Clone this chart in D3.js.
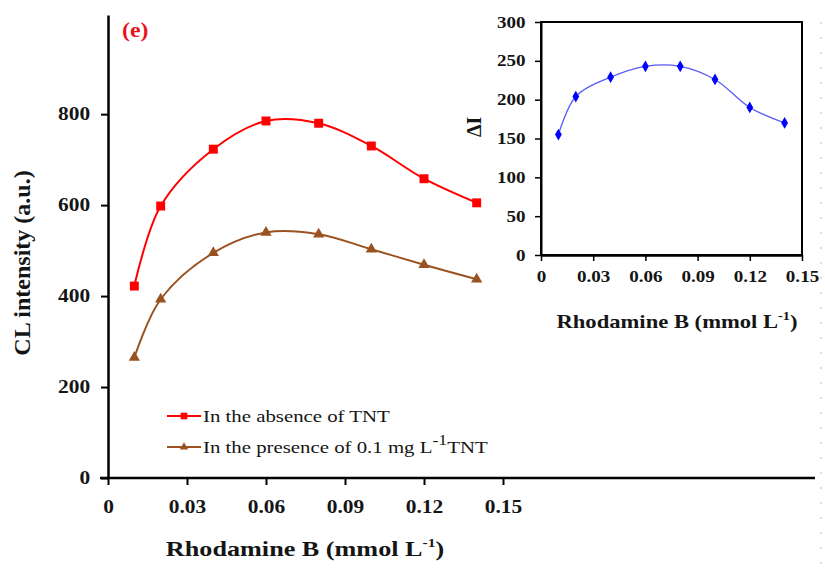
<!DOCTYPE html>
<html lang="en">
<head>
<meta charset="UTF-8">
<title>CL intensity vs Rhodamine B</title>
<script src="https://cdnjs.cloudflare.com/ajax/libs/d3/7.8.5/d3.min.js"></script>
<style>
    html, body { margin: 0; padding: 0; background: #fff; }
    svg text { font-family: "Liberation Serif", "Times New Roman", serif; fill: #151515; }
    .tick text { font-weight: bold; }
</style>
</head>
<body>
<div id="chart"></div>
<script>
    // data
    const conc = [0.01, 0.02, 0.04, 0.06, 0.08, 0.10, 0.12, 0.14];
    const absence = [422, 598, 723, 785, 780, 730, 658, 605];
    const presence = [265, 393, 495, 540, 536, 503, 469, 437];
    const deltaI = [155, 204, 229, 243, 243, 226, 190, 170];
    const xTicks = [0, 0.03, 0.06, 0.09, 0.12, 0.15];
    const yTicksMain = [0, 200, 400, 600, 800];
    const yTicksInset = [0, 50, 100, 150, 200, 250, 300];

    const width = 825, height = 571;
    const S = 1.19; // the source figure is a bit wider than tall, text included

    const svg = d3.select("#chart").append("svg")
        .attr("width", width).attr("height", height);

    const fmtX = d => d === 0 ? "0" : d3.format(".2f")(d);

    // text that is stretched sideways like the original
    function label(px, py, rot, size, bold) {
        const g = svg.append("g").attr("transform",
            `translate(${px},${py})` + (rot ? ` rotate(${rot})` : "") + (rot ? "" : ` scale(${S},1)`));
        return g.append("text").attr("font-size", size).attr("font-weight", bold ? "bold" : null);
    }

    // ---- main chart ----
    const x = d3.scaleLinear().domain([0, 0.15]).range([108, 503]);
    const y = d3.scaleLinear().domain([0, 1018]).range([478, 15]);

    const gy = svg.append("g").attr("transform", `translate(${x(0)},0)`)
        .call(d3.axisLeft(y).tickValues(yTicksMain).tickSize(7).tickSizeOuter(0).tickPadding(8));
    gy.select(".domain").attr("stroke-width", 2.5);
    gy.selectAll(".tick line").attr("stroke-width", 2);
    gy.selectAll(".tick text").attr("font-size", 18).attr("transform", `scale(${S},1)`);

    const gx = svg.append("g").attr("transform", `translate(0,${y(0)})`)
        .call(d3.axisBottom(x).tickValues(xTicks).tickFormat(fmtX).tickSize(7).tickSizeOuter(0).tickPadding(15));
    gx.select(".domain").remove();
    gx.append("line").attr("x1", x(0) - 8).attr("x2", 815)
        .attr("stroke", "#000").attr("stroke-width", 2.5);
    gx.selectAll(".tick line").attr("stroke-width", 2);
    gx.selectAll(".tick text").attr("font-size", 18).attr("transform", `scale(${S},1)`);

    label(30, 263, -90, 24, true).attr("text-anchor", "middle")
        .text("CL intensity (a.u.)");

    const xt = label(305, 556, 0, 22, true).attr("text-anchor", "middle");
    xt.append("tspan").text("Rhodamine B (mmol L");
    xt.append("tspan").attr("font-size", 13).attr("dy", -9).text("-1");
    xt.append("tspan").attr("dy", 9).text(")");

    label(122, 37, 0, 20, true).style("fill", "#e8141b").text("(e)");

    const line = d3.line().curve(d3.curveCatmullRom.alpha(0.5));

    const series = [
        { vals: absence, color: "#ff0000", sym: d3.symbolSquare, size: 80 },
        { vals: presence, color: "#9a5220", sym: d3.symbolTriangle, size: 55 }
    ];
    series.forEach(s => {
        const pts = conc.map((c, i) => [x(c), y(s.vals[i])]);
        svg.append("path").attr("d", line(pts))
            .attr("fill", "none").attr("stroke", s.color).attr("stroke-width", 2);
        svg.append("g").selectAll("path").data(pts).join("path")
            .attr("transform", d => `translate(${d[0]},${d[1]})`)
            .attr("d", d3.symbol(s.sym, s.size)).attr("fill", s.color);
    });

    // legend
    const legendItems = [
        { s: series[0], y: 416, parts: [["In the absence of TNT"]] },
        { s: series[1], y: 447, parts: [["In the presence of 0.1 mg L"], ["-1", true], ["TNT"]] }
    ];
    legendItems.forEach(it => {
        svg.append("line").attr("x1", 167).attr("x2", 201).attr("y1", it.y).attr("y2", it.y)
            .attr("stroke", it.s.color).attr("stroke-width", 2);
        svg.append("path").attr("transform", `translate(184,${it.y})`)
            .attr("d", d3.symbol(it.s.sym, it.s.size * 0.55)).attr("fill", it.s.color);
        const t = label(203, it.y + 6, 0, 17.5, false);
        it.parts.forEach((p, i) => {
            if (p[1]) t.append("tspan").attr("dy", -8).attr("font-size", 15).text(p[0]);
            else t.append("tspan").attr("dy", i ? 8 : 0).text(p[0]);
        });
    });

    // ---- inset ----
    const xi = d3.scaleLinear().domain([0, 0.15]).range([541, 802]);
    const yi = d3.scaleLinear().domain([0, 300]).range([255, 22]);

    svg.append("rect").attr("x", xi(0)).attr("y", yi(300))
        .attr("width", xi(0.15) - xi(0)).attr("height", yi(0) - yi(300))
        .attr("fill", "none").attr("stroke", "#000").attr("stroke-width", 2);

    const giy = svg.append("g").attr("transform", `translate(${xi(0)},0)`)
        .call(d3.axisLeft(yi).tickValues(yTicksInset).tickSize(6).tickSizeOuter(0).tickPadding(7));
    giy.select(".domain").attr("stroke-width", 2);
    giy.selectAll(".tick line").attr("stroke-width", 1.5);
    giy.selectAll(".tick text").attr("font-size", 16).attr("transform", `scale(${S},1)`);

    const gix = svg.append("g").attr("transform", `translate(0,${yi(0)})`)
        .call(d3.axisBottom(xi).tickValues(xTicks).tickFormat(fmtX).tickSize(6).tickSizeOuter(0).tickPadding(10));
    gix.select(".domain").attr("stroke-width", 2.5);
    gix.selectAll(".tick line").attr("stroke-width", 1.5);
    gix.selectAll(".tick text").attr("font-size", 16).attr("transform", `scale(${S},1)`);

    label(481, yi(165), -90, 20, true).attr("text-anchor", "middle").text("ΔI");

    const xti = label(677, 328, 0, 19, true).attr("text-anchor", "middle");
    xti.append("tspan").text("Rhodamine B (mmol L");
    xti.append("tspan").attr("font-size", 12).attr("dy", -8).text("-1");
    xti.append("tspan").attr("dy", 8).text(")");

    const ptsI = conc.map((c, i) => [xi(c), yi(deltaI[i])]);
    svg.append("path").attr("d", line(ptsI))
        .attr("fill", "none").attr("stroke", "#5a5af5").attr("stroke-width", 1.3);
    svg.append("g").selectAll("path").data(ptsI).join("path")
        .attr("transform", d => `translate(${d[0]},${d[1]})`)
        .attr("d", d3.symbol(d3.symbolDiamond, 40)).attr("fill", "#0000ff");

    // dotted edge line at the right border
    svg.append("line").attr("x1", 821).attr("x2", 821).attr("y1", 22).attr("y2", height)
        .attr("stroke", "#bbb").attr("stroke-width", 1).attr("stroke-dasharray", "2,13");
</script>
</body>
</html>
